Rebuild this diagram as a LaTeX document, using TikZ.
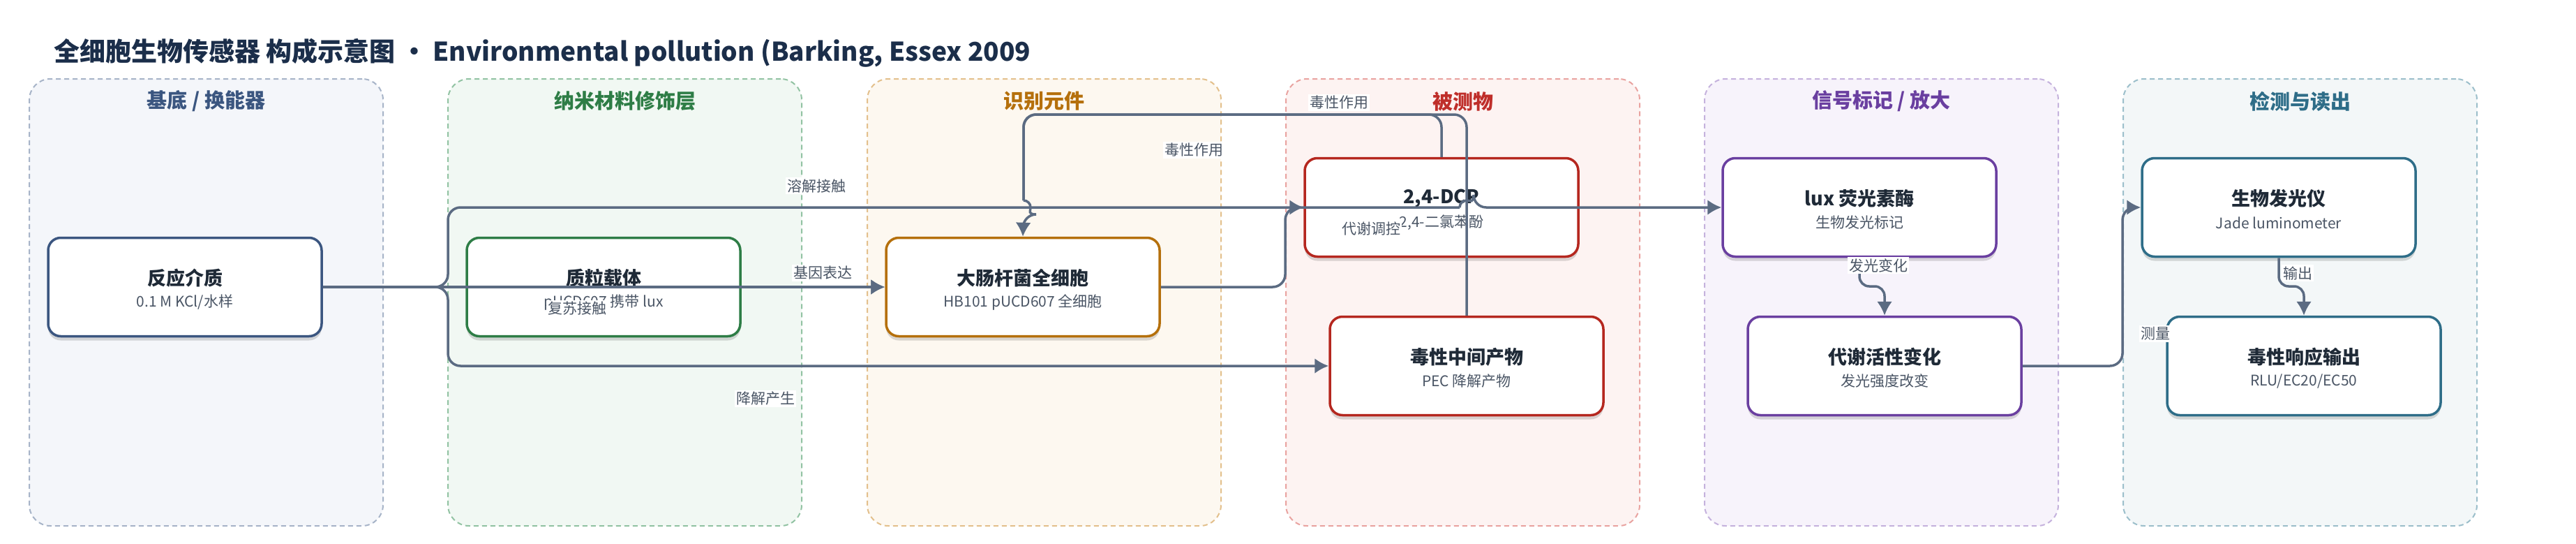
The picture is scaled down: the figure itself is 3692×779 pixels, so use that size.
\documentclass[tikz,border=0pt]{standalone}
\usepackage{fontspec}
\setmainfont{Noto Sans CJK SC}
\usetikzlibrary{arrows.meta,shadows}
\definecolor{cTitle}{HTML}{1B2E4A}
\definecolor{cText}{HTML}{1F2A37}
\definecolor{cSub}{HTML}{4A5565}
\definecolor{cEdge}{HTML}{5B6B82}
\definecolor{pfA}{HTML}{F4F6FA}\definecolor{pbA}{HTML}{A7B4C8}\definecolor{ptA}{HTML}{3B5680}
\definecolor{pfB}{HTML}{F1F8F3}\definecolor{pbB}{HTML}{92C3A3}\definecolor{ptB}{HTML}{2E7D46}
\definecolor{pfC}{HTML}{FDF8F0}\definecolor{pbC}{HTML}{E3C08C}\definecolor{ptC}{HTML}{B5700C}
\definecolor{pfD}{HTML}{FDF3F2}\definecolor{pbD}{HTML}{E9A3A0}\definecolor{ptD}{HTML}{BF2E2A}
\definecolor{pfE}{HTML}{F7F3FB}\definecolor{pbE}{HTML}{C5B2DD}\definecolor{ptE}{HTML}{6A3FA0}
\definecolor{pfF}{HTML}{F3F7F8}\definecolor{pbF}{HTML}{9CBFCB}\definecolor{ptF}{HTML}{2E6D88}
\definecolor{nbD}{HTML}{B5271F}
\begin{document}
\begin{tikzpicture}[x=1pt,y=-1pt,
  panel/.style 2 args={draw=#2, fill=#1, line width=2pt, dash pattern=on 7pt off 5pt,
    rounded corners=30pt, minimum width=507pt, minimum height=640pt, inner sep=0pt},
  ptitle/.style={font=\fontsize{29}{34}\selectfont\bfseries, text=#1, inner sep=0pt},
  box/.style={draw=#1, fill=white, line width=3.5pt, rounded corners=18pt,
    minimum width=392pt, minimum height=141pt, inner sep=0pt,
    drop shadow={shadow xshift=0pt, shadow yshift=-6pt, opacity=0.14, fill=black}},
  ntitle/.style={font=\fontsize{27}{32}\selectfont\bfseries, text=cText, inner sep=0pt},
  nsub/.style={font=\fontsize{21}{25}\selectfont, text=cSub, inner sep=0pt},
  edge/.style={draw=cEdge, line width=3.5pt, rounded corners=18pt},
  tip/.style={-{Latex[length=20pt,width=22pt]}},
  elabel/.style={font=\fontsize{21}{25}\selectfont, text=cSub, fill=white, inner sep=2pt}
]
\useasboundingbox (0,0) rectangle (3692,779);
\fill[white] (0,0) rectangle (3692,779);

% title
\node[anchor=west, font=\fontsize{37}{44}\selectfont\bfseries, text=cTitle, inner sep=0pt] (title) at (77,76)
  {全细胞生物传感器 构成示意图 • Environmental pollution (Barking, Essex 2009};

% panels
\node[panel={pfA}{pbA}] (P1) at (295.5,433) {};
\node[panel={pfB}{pbB}] (P2) at (895.5,433) {};
\node[panel={pfC}{pbC}] (P3) at (1496.5,433) {};
\node[panel={pfD}{pbD}] (P4) at (2096.5,433) {};
\node[panel={pfE}{pbE}] (P5) at (2696.5,433) {};
\node[panel={pfF}{pbF}] (P6) at (3296.5,433) {};
\node[ptitle=ptA] (P1t) at (295.5,145) {基底 / 换能器};
\node[ptitle=ptB] (P2t) at (895.5,145) {纳米材料修饰层};
\node[ptitle=ptC] (P3t) at (1496.5,145) {识别元件};
\node[ptitle=ptD] (P4t) at (2096.5,145) {被测物};
\node[ptitle=ptE] (P5t) at (2696.5,145) {信号标记 / 放大};
\node[ptitle=ptF] (P6t) at (3296.5,145) {检测与读出};

% nodes
\node[box=ptA] (n1) at (265,411) {};
\node[ntitle] (n1t) at (265,398) {反应介质};
\node[nsub] (n1s) at (265,433) {0.1 M KCl/水样};
\node[box=ptB] (n2) at (865,411) {};
\node[ntitle] (n2t) at (865,398) {质粒载体};
\node[nsub] (n2s) at (865,433) {pUCD607 携带 lux};
\node[box=ptC] (n3) at (1466,411) {};
\node[ntitle] (n3t) at (1466,398) {大肠杆菌全细胞};
\node[nsub] (n3s) at (1466,433) {HB101 pUCD607 全细胞};
\node[box=nbD] (n4) at (2066,297) {};
\node[ntitle] (n4t) at (2066,284) {2,4-DCP};
\node[nsub] (n4s) at (2066,319) {2,4-二氯苯酚};
\node[box=nbD] (n5) at (2102,524) {};
\node[ntitle] (n5t) at (2102,511) {毒性中间产物};
\node[nsub] (n5s) at (2102,546) {PEC 降解产物};
\node[box=ptE] (n6) at (2665,297) {};
\node[ntitle] (n6t) at (2665,284) {lux 荧光素酶};
\node[nsub] (n6s) at (2665,319) {生物发光标记};
\node[box=ptE] (n7) at (2701,524) {};
\node[ntitle] (n7t) at (2701,511) {代谢活性变化};
\node[nsub] (n7s) at (2701,546) {发光强度改变};
\node[box=ptF] (n8) at (3266,297) {};
\node[ntitle] (n8t) at (3266,284) {生物发光仪};
\node[nsub] (n8s) at (3266,319) {Jade luminometer};
\node[box=ptF] (n9) at (3302,524) {};
\node[ntitle] (n9t) at (3302,511) {毒性响应输出};
\node[nsub] (n9s) at (3302,546) {RLU/EC20/EC50};

% helper coordinates
\coordinate (h1a) at (1467,287);
\coordinate (h2a) at (2092,297);

% edges
\draw[edge,tip] (n1.east) -- (n3.west);
\draw[edge,tip] (n2.east) -- (n3.west);
\draw[edge,tip] (n1.east) -- (642,411) -- (642,297) -- (n4.west);
\draw[edge,tip] (n1.east) -- (642,411) -- (642,524) -- (n5.west);
\draw[edge] (n3.east) -- (1842,411) -- (1842,297) -- (h2a);
\draw[edge,tip] (h2a) arc[start angle=180,end angle=0,radius=10pt] -- (n6.west);
\draw[edge] (n4.north) -- (2066,164) -- (1467,164) -- (h1a);
\draw[edge] (n5.north) -- (2102,164) -- (1467,164) -- (h1a);
\draw[edge,tip] (h1a) arc[start angle=90,end angle=-90,radius=10pt] -- (n3.north);
\draw[edge,tip,rounded corners=14pt] (n6.south) -- (2665,410) -- (2701,410) -- (n7.north);
\draw[edge,tip] (n7.east) -- (3042,524) -- (3042,297) -- (n8.west);
\draw[edge,tip,rounded corners=14pt] (n8.south) -- (3266,410) -- (3302,410) -- (n9.north);

% edge labels
\node[elabel] (l1) at (827,442) {复苏接触};
\node[elabel] (l2) at (1179,391) {基因表达};
\node[elabel] (l3) at (1170,266) {溶解接触};
\node[elabel] (l4) at (1097,571) {降解产生};
\node[elabel] (l5) at (1965,328) {代谢调控};
\node[elabel] (l6) at (1711,215) {毒性作用};
\node[elabel] (l7) at (1919,147) {毒性作用};
\node[elabel] (l8) at (2692,380) {发光变化};
\node[elabel] (l9) at (3089,478) {测量};
\node[elabel] (l10) at (3293,391) {输出};
\end{tikzpicture}
\end{document}
